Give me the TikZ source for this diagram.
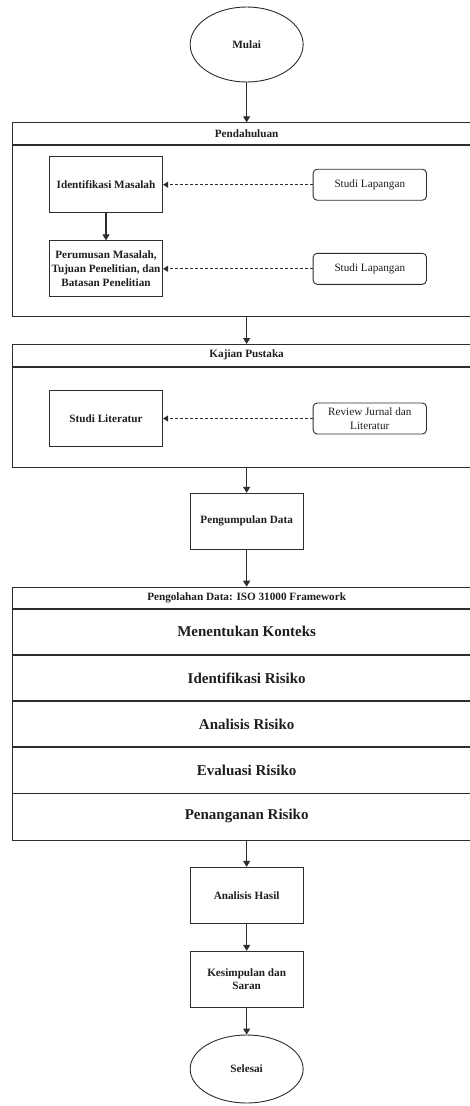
\documentclass[tikz,border=0pt]{standalone}
\usepackage{fontspec}
\setmainfont{Liberation Serif}
\usetikzlibrary{arrows.meta,positioning,shapes.geometric}
\definecolor{flowline}{RGB}{45,45,45}
\definecolor{flowtext}{RGB}{30,30,30}

\begin{document}
\begin{tikzpicture}[
    x=1pt, y=-1pt,
    font=\fontsize{11.2}{13.7}\selectfont, text=flowtext,
    terminal/.style={draw=flowline, line width=0.9pt, ellipse, minimum width=113pt, font=\fontsize{11.2}{13.7}\selectfont\bfseries},
    box/.style={draw=flowline, line width=0.9pt, minimum width=113.3pt, minimum height=56pt, inner sep=1pt, align=center, font=\fontsize{11.2}{13.7}\selectfont\bfseries},
    source/.style={draw=flowline, line width=0.9pt, rounded corners=4pt, minimum width=113.3pt, minimum height=31pt, inner sep=1pt, align=center},
    lane/.style={draw=flowline, line width=0.9pt, minimum width=468.7pt, inner sep=0pt, anchor=north},
    lanehead/.style={lane, minimum height=21.6pt, font=\fontsize{11.2}{13.7}\selectfont\bfseries},
    riskrow/.style={minimum width=468.7pt, minimum height=46.2pt, inner sep=0pt, anchor=north, font=\fontsize{15}{18}\selectfont\bfseries},
    flow/.style={draw=flowline, line width=1.2pt, -{Triangle[width=7pt,length=6pt]}},
    dashflow/.style={draw=flowline, line width=0.9pt, dash pattern=on 3pt off 2pt, -{Triangle[width=6pt,length=5pt]}},
    sepline/.style={draw=flowline, line width=1.8pt}
]
\useasboundingbox (0,0) rectangle (470,1106);

\node[terminal, minimum height=75pt] (mulai) at (246.65,44.5) {Mulai};

\node[lanehead] (pendH) at (246.65,122.3) {Pendahuluan};
\node[lane, minimum height=171.3pt] (pendB) at (pendH.south) {};
\node[box] (idm) at (106,184.7) {Identifikasi Masalah};
\node[box] (rumus) at (106,268.8) {Perumusan Masalah,\\Tujuan Penelitian, dan\\Batasan Penelitian};
\node[source, right=149.6pt of idm] (lap1) {Studi Lapangan};
\node[source, right=149.6pt of rumus] (lap2) {Studi Lapangan};

\node[lanehead] (kajH) at (246.65,344) {Kajian Pustaka};
\node[lane, minimum height=100pt] (kajB) at (kajH.south) {};
\node[box] (lit) at (106,418.5) {Studi Literatur};
\node[source, right=149.6pt of lit] (review) {Review Jurnal dan\\Literatur};

\node[box] (kumpul) at (246.65,521.3) {Pengumpulan Data};

\node[lanehead] (olahH) at (246.65,586.7) {Pengolahan Data: ISO 31000 Framework};
\node[lane, minimum height=231pt] (olahB) at (olahH.south) {};
\foreach \t [count=\i] in {Menentukan Konteks, Identifikasi Risiko, Analisis Risiko, Evaluasi Risiko, Penanganan Risiko}
    \node[riskrow] (r\i) at (246.65,{608.3+46.2*(\i-1)}) {\t};
\foreach \i in {1,...,4}
    \draw[sepline] (r\i.south west) -- (r\i.south east);

\node[box] (hasil) at (246.65,895.3) {Analisis Hasil};
\node[box] (simpul) at (246.65,979.3) {Kesimpulan dan\\Saran};
\node[terminal, minimum height=68pt] (selesai) at (246.65,1069) {Selesai};

\draw[flow] (mulai) -- (pendH);
\draw[flow] (idm) -- (rumus);
\draw[dashflow] (lap1) -- (idm);
\draw[dashflow] (lap2) -- (rumus);
\draw[flow] (pendB) -- (kajH);
\draw[dashflow] (review) -- (lit);
\draw[flow] (kajB) -- (kumpul);
\draw[flow] (kumpul) -- (olahH);
\draw[flow] (olahB) -- (hasil);
\draw[flow] (hasil) -- (simpul);
\draw[flow] (simpul) -- (selesai);
\end{tikzpicture}
\end{document}
